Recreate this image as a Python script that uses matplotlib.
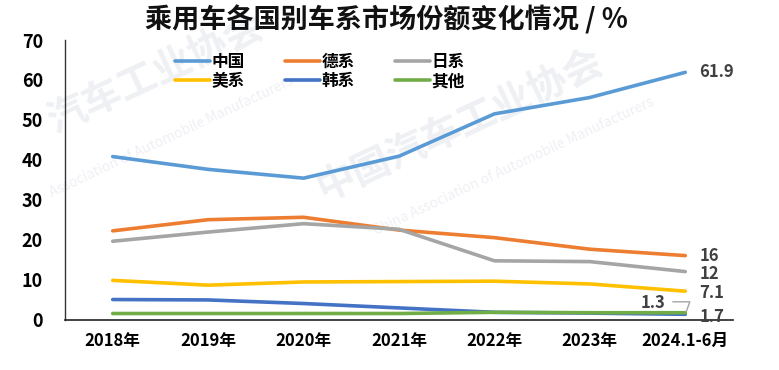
import matplotlib
matplotlib.use("Agg")
import matplotlib.pyplot as plt

plt.rcParams['font.family'] = ['Noto Sans CJK SC', 'DejaVu Sans']

years = ["2018年", "2019年", "2020年", "2021年", "2022年", "2023年", "2024.1-6月"]
series_names = ["中国", "德系", "日系", "美系", "韩系", "其他"]
china = [40.8, 37.6, 35.4, 40.9, 51.5, 55.6, 61.9]
german = [22.2, 25.0, 25.6, 22.4, 20.5, 17.6, 16.0]
japan = [19.6, 21.9, 24.0, 22.6, 14.7, 14.5, 12.0]
usa = [9.8, 8.6, 9.4, 9.5, 9.6, 8.9, 7.1]
korea = [5.0, 4.9, 4.0, 2.9, 1.8, 1.6, 1.3]
other = [1.5, 1.5, 1.5, 1.5, 1.8, 1.7, 1.7]
colors = ["#5B9BD5", "#ED7D31", "#A5A5A5", "#FFC000", "#4472C4", "#70AD47"]
end_labels = ["61.9", "16", "12", "7.1", "1.3", "1.7"]

fig = plt.figure(figsize=(7.79, 3.70), dpi=100)
ax = fig.add_axes([65/779, 1-319.5/370, (733-65)/779, 279.5/370])
ax.patch.set_alpha(0)
ax.set_zorder(2)

# faint watermark (drawn beneath the axes)
wm_color = "#eff0f4"
fig.text(0.20, 0.80, "汽车工业协会", fontsize=28, color=wm_color, rotation=25,
         ha="center", va="center", fontweight="bold", zorder=0)
fig.text(0.22, 0.63, "Association of Automobile Manufacturers", fontsize=10, color=wm_color,
         rotation=25, ha="center", va="center", zorder=0)
fig.text(0.59, 0.66, "中国汽车工业协会", fontsize=28, color=wm_color, rotation=25,
         ha="center", va="center", fontweight="bold", zorder=0)
fig.text(0.66, 0.55, "China Association of Automobile Manufacturers", fontsize=10, color=wm_color,
         rotation=25, ha="center", va="center", zorder=0)

x = list(range(len(years)))
data = [china, german, japan, usa, korea, other]
handles = []
for name, vals, c in zip(series_names, data, colors):
    h, = ax.plot(x, vals, color=c, lw=2.6, label=name, solid_capstyle="round")
    handles.append(h)

ax.set_xlim(-0.5, len(years) - 0.5)
ax.set_ylim(0, 70)
ax.set_yticks(range(0, 71, 10))
ax.set_xticks(x)
ax.set_xticklabels(years)
for lab in ax.get_yticklabels():
    lab.set_fontweight("bold")
    lab.set_fontsize(13)
for lab in ax.get_xticklabels():
    lab.set_fontweight("bold")
    lab.set_fontsize(12)
ax.tick_params(axis="both", length=0)
ax.tick_params(axis="y", pad=16)
ax.tick_params(axis="x", pad=9)
for s in ["top", "right"]:
    ax.spines[s].set_visible(False)
ax.spines["left"].set_color("#333333")
ax.spines["bottom"].set_color("#222222")
ax.spines["left"].set_linewidth(1.0)
ax.spines["bottom"].set_linewidth(1.2)

# end labels
lab_color = "#404040"
fs = 12
last = len(years) - 1
ax.annotate(end_labels[0], (last, china[-1]), xytext=(10, 0), textcoords="offset points",
            va="center", ha="left", fontsize=fs, fontweight="bold", color=lab_color)
ax.annotate(end_labels[1], (last, german[-1]), xytext=(10, 0), textcoords="offset points",
            va="center", ha="left", fontsize=fs, fontweight="bold", color=lab_color)
ax.annotate(end_labels[2], (last, japan[-1]), xytext=(10, -1.5), textcoords="offset points",
            va="center", ha="left", fontsize=fs, fontweight="bold", color=lab_color)
ax.annotate(end_labels[3], (last, usa[-1]), xytext=(10, -1), textcoords="offset points",
            va="center", ha="left", fontsize=fs, fontweight="bold", color=lab_color)
ax.annotate(end_labels[5], (last, other[-1]), xytext=(10, -3), textcoords="offset points",
            va="center", ha="left", fontsize=fs, fontweight="bold", color=lab_color)
ax.annotate(end_labels[4], (last, korea[-1]), xytext=(-14, 8), textcoords="offset points",
            va="center", ha="right", fontsize=fs, fontweight="bold", color=lab_color)
ax.annotate("", xy=(last, korea[-1]), xytext=(-9, 9), textcoords="offset points",
            arrowprops=dict(arrowstyle="-", color="#A5A5A5", lw=1,
                            connectionstyle="angle,angleA=0,angleB=70,rad=0",
                            shrinkA=0, shrinkB=2))

order = [0, 3, 1, 4, 2, 5]
leg = ax.legend([handles[i] for i in order], [series_names[i] for i in order],
                loc="upper left", bbox_to_anchor=(0.165, 0.955), ncol=3, frameon=False,
                handlelength=2.1, handletextpad=0.1, columnspacing=2.4,
                labelspacing=0.1, borderpad=0, borderaxespad=0,
                prop={"weight": "bold", "size": 12})

fig.text(0.496, 0.945, "乘用车各国别车系市场份额变化情况 / %", ha="center", va="center",
         fontsize=19.5, fontweight="bold", color="#111111")

fig.savefig("out.png", dpi=100)
